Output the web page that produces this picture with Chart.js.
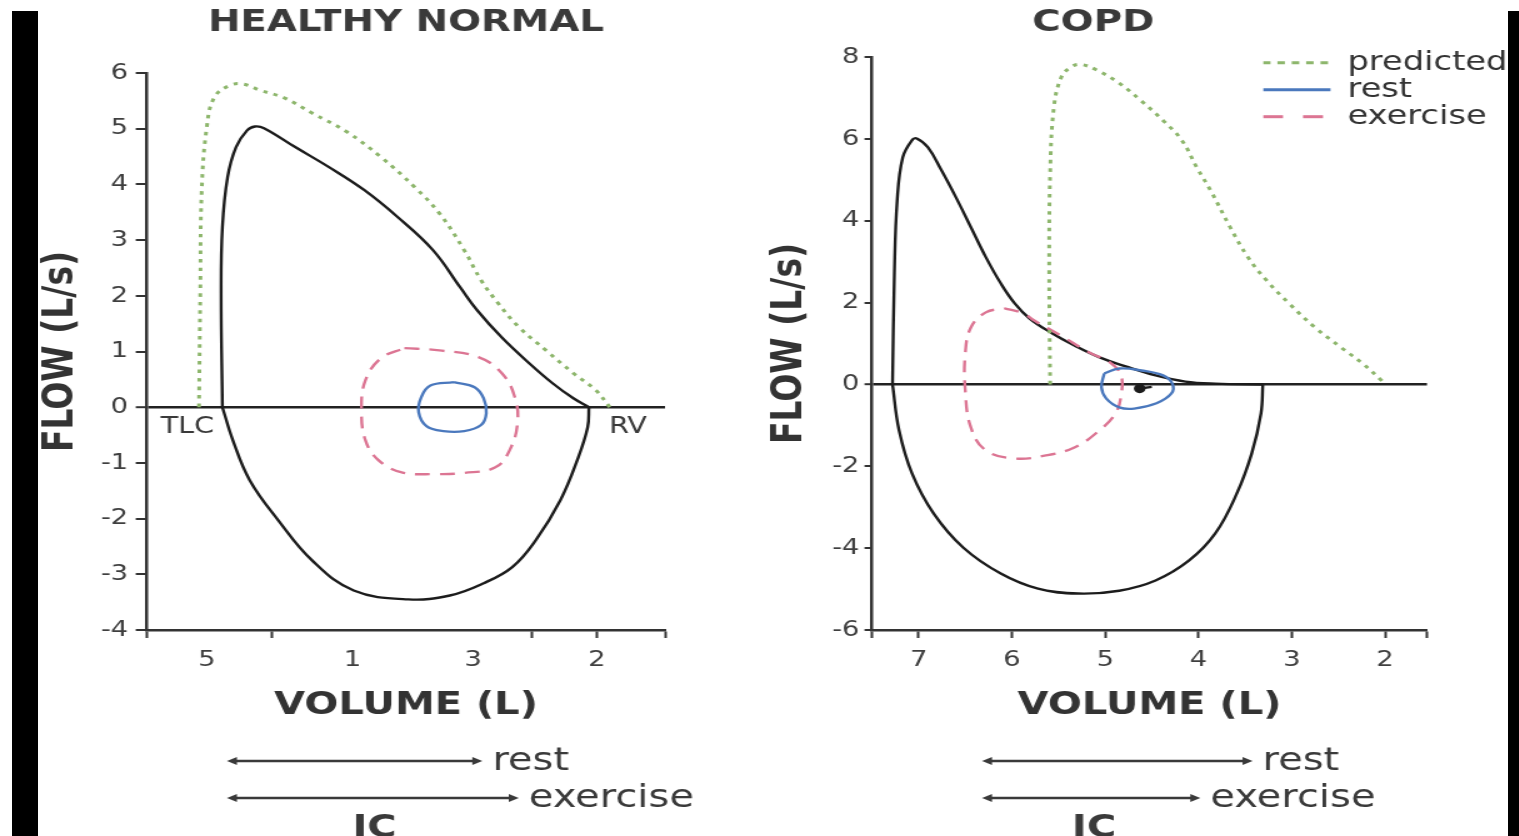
<!DOCTYPE html>
<html>
<head>
<meta charset="utf-8">
<script src="https://cdn.jsdelivr.net/npm/chart.js@4.4.1/dist/chart.umd.min.js"></script>
<style>
  html, body { margin: 0; padding: 0; background: #fff; overflow: hidden; }
  body { width: 1519px; height: 836px; position: relative; }
  canvas { position: absolute; top: 0; transform: scaleX(1.25); transform-origin: 0 0; }
  .bar { position: absolute; top: 11px; bottom: 0; background: #000; z-index: 5; }
</style>
</head>
<body>
<canvas id="normal" width="592" height="836" style="left:0;width:592px;height:836px"></canvas>
<canvas id="copd" width="623" height="836" style="left:740px;width:623px;height:836px"></canvas>
<div class="bar" style="left:12px;width:26px"></div>
<div class="bar" style="left:1508px;width:11px"></div>
<script>
// ---- healthy normal (volume in L, flow in L/s) ----
const normalPredVol  = [5.06, 5.05, 5.04, 5.00, 4.94, 4.82, 4.72, 4.59, 4.40, 4.19, 3.92, 3.66, 3.40, 3.21, 3.02, 2.89, 2.76, 2.60, 2.39, 2.18, 2.01, 1.90];
const normalPredFlow = [0, 2.05, 3.84, 5.03, 5.57, 5.78, 5.80, 5.69, 5.55, 5.28, 4.94, 4.49, 3.95, 3.48, 2.82, 2.28, 1.87, 1.44, 1.02, 0.61, 0.31, 0];
const normalExpVol   = [4.88, 4.89, 4.88, 4.84, 4.775, 4.69, 4.63, 4.56, 4.32, 4.06, 3.79, 3.53, 3.26, 3.05, 2.92, 2.73, 2.52, 2.34, 2.18, 2.06];
const normalExpFlow  = [0, 2.05, 3.23, 4.13, 4.67, 4.97, 5.04, 5.01, 4.67, 4.31, 3.90, 3.41, 2.82, 2.15, 1.74, 1.25, 0.79, 0.43, 0.16, 0];
const normalInsVol   = [2.06, 2.07, 2.15, 2.28, 2.47, 2.65, 2.87, 3.13, 3.45, 3.87, 4.19, 4.45, 4.67, 4.80, 4.88];
const normalInsFlow  = [0, -0.36, -0.95, -1.67, -2.39, -2.87, -3.16, -3.38, -3.45, -3.29, -2.75, -2.03, -1.31, -0.59, 0];
const normalExVol    = [3.48, 3.21, 2.91, 2.73, 2.63, 2.61, 2.67, 2.78, 3.02, 3.24, 3.50, 3.68, 3.78, 3.81, 3.78, 3.66, 3.48];
const normalExFlow   = [1.06, 1.02, 0.90, 0.61, 0.18, -0.29, -0.77, -1.08, -1.18, -1.20, -1.17, -0.95, -0.59, -0.05, 0.48, 0.88, 1.06];
const normalRestVol  = [3.10, 2.94, 2.87, 2.85, 2.89, 3.02, 3.18, 3.31, 3.37, 3.35, 3.28, 3.10];
const normalRestFlow = [0.45, 0.36, 0.16, -0.11, -0.32, -0.43, -0.43, -0.34, -0.09, 0.18, 0.39, 0.45];

// ---- COPD ----
const copdPredVol  = [5.59, 5.60, 5.59, 5.55, 5.47, 5.37, 5.27, 5.09, 4.85, 4.62, 4.38, 4.18, 4.02, 3.87, 3.66, 3.47, 3.27, 3.03, 2.75, 2.47, 2.24, 2.04, 2.00];
const copdPredFlow = [0, 2.71, 5.16, 6.77, 7.51, 7.75, 7.82, 7.68, 7.36, 6.94, 6.45, 5.97, 5.31, 4.74, 3.84, 3.11, 2.54, 1.98, 1.39, 0.90, 0.51, 0.10, 0];
const copdExpVol   = [7.28, 7.26, 7.23, 7.17, 7.07, 7.02, 6.90, 6.76, 6.60, 6.44, 6.28, 6.12, 5.97, 5.81, 5.57, 5.33, 5.06, 4.78, 4.46, 4.14, 3.82, 3.31];
const copdExpFlow  = [0, 2.71, 4.50, 5.55, 5.97, 6.01, 5.79, 5.25, 4.57, 3.84, 3.11, 2.47, 1.98, 1.61, 1.25, 0.95, 0.66, 0.44, 0.22, 0.07, 0.02, 0];
const copdInsVol   = [3.31, 3.33, 3.43, 3.59, 3.82, 4.10, 4.46, 4.85, 5.29, 5.72, 6.12, 6.52, 6.84, 7.07, 7.21, 7.28];
const copdInsFlow  = [0, -0.71, -1.69, -2.67, -3.64, -4.30, -4.79, -5.04, -5.11, -4.99, -4.62, -3.99, -3.15, -2.18, -1.12, 0];
const copdExVol    = [6.08, 5.88, 5.76, 5.48, 5.17, 4.95, 4.83, 4.83, 4.89, 5.06, 5.33, 5.65, 5.97, 6.28, 6.44, 6.50, 6.50, 6.44, 6.28, 6.08];
const copdExFlow   = [1.86, 1.74, 1.56, 1.20, 0.78, 0.54, 0.22, -0.27, -0.71, -1.12, -1.54, -1.74, -1.81, -1.61, -1.05, -0.15, 0.76, 1.39, 1.76, 1.86];
const copdRestVol  = [5.01, 4.85, 4.61, 4.38, 4.28, 4.29, 4.45, 4.69, 4.85, 4.99, 5.04, 5.01];
const copdRestFlow = [0.27, 0.39, 0.34, 0.22, 0.02, -0.22, -0.46, -0.59, -0.56, -0.34, -0.07, 0.27];
const copdMarkVol  = [4.50, 4.63];
const copdMarkFlow = [-0.06, -0.10];

// ---- axes ----
const normalFlowTicks = [-4, -3, -2, -1, 0, 1, 2, 3, 4, 5, 6];
const normalVolMarks  = [5.46, 4.5, 2.5, 2, 1.475];
const normalVolLabelAt = [5, 3.88, 2.95, 2];
const normalVolLabels  = ['5', '1', '3', '2'];
const copdFlowTicks = [-6, -4, -2, 0, 2, 4, 6, 8];
const copdVolMarks  = [7.5, 7, 6, 5, 4, 3, 2, 1.55];
const copdVolLabelAt = [7, 6, 5, 4, 3, 2];
const copdVolLabels  = ['7', '6', '5', '4', '3', '2'];

// inspiratory capacity arrows [from, to] in L
const normalIcRest = [4.845, 2.88];
const normalIcEx   = [4.845, 2.60];
const copdIcRest   = [6.32, 3.42];
const copdIcEx     = [6.32, 3.98];

const GREEN = '#8db66c', BLUE = '#4a78bd', PINK = '#dc7593', INK = '#1c1c1c';
const FONT = '"DejaVu Sans", sans-serif';
Chart.defaults.font.family = FONT;
Chart.defaults.color = '#3a3a3a';

function pts(vol, flow) {
  return vol.map((v, i) => ({ x: v, y: flow[i] }));
}

function curve(label, vol, flow, color, dash, width, legendDash) {
  return {
    label: label,
    data: pts(vol, flow),
    showLine: true,
    borderColor: color,
    backgroundColor: color,
    borderWidth: width || 2.4,
    borderDash: dash || [],
    legendDash: legendDash || dash || [],
    pointRadius: 0,
    tension: 0.4,
    fill: false
  };
}

const notesPlugin = {
  id: 'notes',
  afterLayout(chart, args, opts) {
    if (opts.legendAt) {
      const lg = chart.legend;
      lg.left = opts.legendAt.x;
      lg.top = opts.legendAt.y;
      lg.right = chart.width;
      lg.bottom = lg.top + 100;
    }
  },
  afterDraw(chart, args, opts) {
    const ctx = chart.ctx;
    const xs = chart.scales.x, ys = chart.scales.y;
    ctx.save();
    ctx.fillStyle = '#3a3a3a';
    ctx.strokeStyle = '#3a3a3a';
    (opts.labels || []).forEach(l => {
      ctx.font = '23px ' + FONT;
      ctx.textAlign = 'center';
      ctx.textBaseline = 'middle';
      ctx.fillText(l.text, xs.getPixelForValue(l.vol), ys.getPixelForValue(l.flow));
    });
    (opts.arrows || []).forEach(a => {
      const x1 = xs.getPixelForValue(a.range[0]);
      const x2 = xs.getPixelForValue(a.range[1]);
      ctx.lineWidth = 2.5;
      ctx.beginPath();
      ctx.moveTo(x1 + 5, a.y);
      ctx.lineTo(x2 - 5, a.y);
      ctx.stroke();
      ctx.beginPath();
      ctx.moveTo(x1, a.y); ctx.lineTo(x1 + 8, a.y - 4); ctx.lineTo(x1 + 8, a.y + 4);
      ctx.closePath(); ctx.fill();
      ctx.beginPath();
      ctx.moveTo(x2, a.y); ctx.lineTo(x2 - 8, a.y - 4); ctx.lineTo(x2 - 8, a.y + 4);
      ctx.closePath(); ctx.fill();
      ctx.font = '32px ' + FONT;
      ctx.textAlign = 'left';
      ctx.textBaseline = 'alphabetic';
      ctx.fillText(a.text, x2 + 8, a.y + 9);
    });
    if (opts.ic) {
      ctx.font = 'bold 32px ' + FONT;
      ctx.textAlign = 'center';
      ctx.textBaseline = 'alphabetic';
      ctx.fillText('IC', xs.getPixelForValue(opts.ic.vol), opts.ic.y);
    }
    ctx.restore();
  }
};

function makeChart(id, cfg) {
  const markSet = cfg.marks;
  return new Chart(document.getElementById(id), {
    type: 'scatter',
    data: { datasets: cfg.datasets },
    plugins: [notesPlugin],
    options: {
      responsive: false,
      animation: false,
      events: [],
      layout: { padding: cfg.padding },
      scales: {
        x: {
          type: 'linear',
          reverse: true,
          min: cfg.xMin,
          max: cfg.xMax,
          afterFit: s => { s.height = 100; },
          afterBuildTicks: s => {
            const vals = markSet.concat(cfg.labelAt.filter(v => !markSet.includes(v)));
            s.ticks = vals.sort((a, b) => b - a).map(v => ({ value: v }));
          },
          border: { color: '#333', width: 2.5 },
          grid: {
            drawOnChartArea: false,
            tickLength: 8,
            tickWidth: 2,
            tickColor: c => (c.tick && markSet.includes(c.tick.value)) ? '#333' : 'rgba(0,0,0,0)'
          },
          ticks: {
            autoSkip: false,
            maxRotation: 0,
            padding: 9,
            color: '#3f3f3f',
            font: { size: 22 },
            callback: v => {
              const i = cfg.labelAt.indexOf(v);
              return i >= 0 ? cfg.labelText[i] : '';
            }
          },
          title: {
            display: true,
            text: 'VOLUME (L)',
            color: '#333',
            font: { size: 32, weight: 'bold' },
            padding: { top: 0, bottom: 4.8 }
          }
        },
        y: {
          type: 'linear',
          min: cfg.yTicks[0],
          max: cfg.yTicks[cfg.yTicks.length - 1],
          afterFit: s => { s.width = cfg.yWidth; },
          afterBuildTicks: s => { s.ticks = cfg.yTicks.map(v => ({ value: v })); },
          border: { color: '#333', width: 2.5 },
          grid: {
            color: c => (c.tick && c.tick.value === 0) ? '#222' : 'rgba(0,0,0,0)',
            lineWidth: c => (c.tick && c.tick.value === 0) ? 2.4 : 0,
            tickColor: '#333',
            tickLength: cfg.yTickLen,
            tickWidth: 2
          },
          ticks: { padding: cfg.yPad, color: '#3f3f3f', font: { size: 22 } },
          title: {
            display: true,
            text: 'FLOW (L/s)',
            color: '#333',
            font: { size: 33, weight: 'bold' },
            padding: { top: cfg.yTitlePad, bottom: 0 }
          }
        }
      },
      plugins: {
        tooltip: { enabled: false },
        title: {
          display: true,
          text: cfg.title,
          color: '#3a3a3a',
          fullSize: cfg.titleFull,
          font: { size: 31, weight: 'bold', lineHeight: 1.2 },
          padding: { top: 4, bottom: cfg.titleGap }
        },
        legend: cfg.legend,
        notes: cfg.notes
      }
    }
  });
}

makeChart('normal', {
  title: 'HEALTHY NORMAL',
  titleFull: false,
  titleGap: 31.8,
  padding: { left: 17.6, right: 60, top: 0, bottom: 106 },
  xMin: 1.475, xMax: 5.46,
  marks: normalVolMarks,
  labelAt: normalVolLabelAt,
  labelText: normalVolLabels,
  yTicks: normalFlowTicks,
  yWidth: 100, yTickLen: 9, yPad: 6, yTitlePad: 12.2,
  datasets: [
    curve('predicted', normalPredVol, normalPredFlow, GREEN, [3.5, 5], 3),
    curve('rest', normalRestVol, normalRestFlow, BLUE),
    curve('exercise', normalExVol, normalExFlow, PINK, [12, 8]),
    curve('expiration', normalExpVol, normalExpFlow, INK),
    curve('inspiration', normalInsVol, normalInsFlow, INK)
  ],
  legend: { display: false },
  notes: {
    labels: [
      { text: 'TLC', vol: 5.15, flow: -0.36 },
      { text: 'RV', vol: 1.76, flow: -0.36 }
    ],
    arrows: [
      { range: normalIcRest, y: 761, text: 'rest' },
      { range: normalIcEx, y: 798, text: 'exercise' }
    ],
    ic: { vol: 3.71, y: 837 }
  }
});

const legendNames = ['predicted', 'rest', 'exercise'];
makeChart('copd', {
  title: 'COPD',
  titleFull: true,
  titleGap: 15.8,
  padding: { left: 15.6, right: 73.4, top: 0, bottom: 106 },
  xMin: 1.55, xMax: 7.5,
  marks: copdVolMarks,
  labelAt: copdVolLabelAt,
  labelText: copdVolLabels,
  yTicks: copdFlowTicks,
  yWidth: 90, yTickLen: 6, yPad: 4, yTitlePad: 4.6,
  datasets: [
    curve('predicted', copdPredVol, copdPredFlow, GREEN, [3.5, 5], 3, [6, 5.5]),
    curve('rest', copdRestVol, copdRestFlow, BLUE),
    curve('exercise', copdExVol, copdExFlow, PINK, [12, 8], 2.4, [16, 16]),
    Object.assign(curve('marker', copdMarkVol, copdMarkFlow, INK), {
      pointRadius: [0, 3.5], pointStyle: 'circle', tension: 0
    }),
    curve('expiration', copdExpVol, copdExpFlow, INK),
    curve('inspiration', copdInsVol, copdInsFlow, INK)
  ],
  legend: {
    display: true,
    position: 'chartArea',
    align: 'start',
    labels: {
      usePointStyle: true,
      pointStyle: 'line',
      pointStyleWidth: 54,
      padding: 0,
      color: '#333',
      font: { size: 27 },
      filter: item => legendNames.includes(item.text),
      generateLabels: chart => Chart.defaults.plugins.legend.labels.generateLabels(chart).map(item => {
        const ds = chart.data.datasets[item.datasetIndex];
        item.lineDash = ds.legendDash;
        item.lineWidth = 3;
        item.strokeStyle = ds.borderColor;
        return item;
      })
    }
  },
  notes: {
    legendAt: { x: 418.4, y: 49.2 },
    arrows: [
      { range: copdIcRest, y: 761, text: 'rest' },
      { range: copdIcEx, y: 798, text: 'exercise' }
    ],
    ic: { vol: 5.12, y: 837 }
  }
});
</script>
</body>
</html>
